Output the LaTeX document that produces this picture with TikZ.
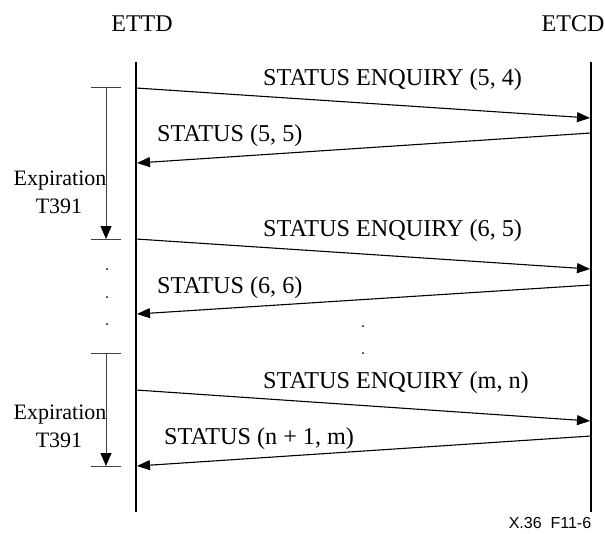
\documentclass[tikz,border=0pt]{standalone}
\usepackage{fontspec}
\setmainfont{Liberation Serif}
\newfontfamily\arialfont{Liberation Sans}
\usetikzlibrary{arrows.meta}
\tikzset{
  lifeline/.style={line width=1.8pt, black},
  msg/.style={line width=1.1pt, black, -{Triangle[length=13pt,width=10pt]}},
  timer/.style={line width=1pt, black!75, -{Triangle[length=13pt,width=11pt,color=black]}},
  timerbar/.style={line width=1pt, black!75},
  lbl/.style={inner sep=0pt, anchor=base west, font=\fontsize{24.2}{28}\selectfont},
  hdr/.style={inner sep=0pt, anchor=base, font=\fontsize{24}{28}\selectfont},
  explbl/.style={inner sep=0pt, anchor=base, font=\fontsize{22}{26}\selectfont},
  dotmark/.style={fill=black, circle, inner sep=0pt, minimum size=2pt}
}
\begin{document}
\begin{tikzpicture}[x=1pt,y=-1pt]
\useasboundingbox (0,0) rectangle (605,533);
% headers
\node[hdr] (ettd) at (142,31) {ETTD};
\node[hdr] (etcd) at (573,31) {ETCD};
% lifelines
\coordinate (Lt) at (136,62); \coordinate (Lb) at (136,512);
\coordinate (Rt) at (591,62); \coordinate (Rb) at (591,512);
\draw[lifeline] (Lt) -- (Lb);
\draw[lifeline] (Rt) -- (Rb);
% message end points
\coordinate (m1s) at (136,88);  \coordinate (m1e) at (590,118);
\coordinate (m2s) at (591,133); \coordinate (m2e) at (137,163);
\coordinate (m3s) at (136,239); \coordinate (m3e) at (590,269);
\coordinate (m4s) at (591,285); \coordinate (m4e) at (137,314);
\coordinate (m5s) at (136,390); \coordinate (m5e) at (590,421);
\coordinate (m6s) at (591,436); \coordinate (m6e) at (137,466);
\draw[msg] (m1s) -- (m1e);
\draw[msg] (m2s) -- (m2e);
\draw[msg] (m3s) -- (m3e);
\draw[msg] (m4s) -- (m4e);
\draw[msg] (m5s) -- (m5e);
\draw[msg] (m6s) -- (m6e);
% message labels
\node[lbl] (l1) at (263,85) {STATUS ENQUIRY (5, 4)};
\node[lbl] (l2) at (157,141) {STATUS (5, 5)};
\node[lbl] (l3) at (263,236) {STATUS ENQUIRY (6, 5)};
\node[lbl] (l4) at (157,293) {STATUS (6, 6)};
\node[lbl] (l5) at (263,388) {STATUS ENQUIRY (m, n)};
\node[lbl] (l6) at (164,444) {STATUS (n + 1, m)};
% timer 1
\coordinate (t1a) at (91,87);  \coordinate (t1b) at (121,87);
\coordinate (t1c) at (91,239); \coordinate (t1d) at (121,239);
\coordinate (t1top) at (106,87); \coordinate (t1bot) at (106,239);
\draw[timerbar] (t1a) -- (t1b);
\draw[timerbar] (t1c) -- (t1d);
\draw[timer] (t1top) -- (t1bot);
\node[explbl] (e1) at (60,185) {Expiration};
\node[explbl] (e1b) at (59,213) {T391};
% timer 2
\coordinate (t2a) at (91,353);  \coordinate (t2b) at (121,353);
\coordinate (t2c) at (91,466); \coordinate (t2d) at (121,466);
\coordinate (t2top) at (106,353); \coordinate (t2bot) at (106,466);
\draw[timerbar] (t2a) -- (t2b);
\draw[timerbar] (t2c) -- (t2d);
\draw[timer] (t2top) -- (t2bot);
\node[explbl] (e2) at (60,419) {Expiration};
\node[explbl] (e2b) at (59,447) {T391};
% dots
\node[dotmark] (d1) at (107,269) {};
\node[dotmark] (d2) at (107,297) {};
\node[dotmark] (d3) at (107,324) {};
\node[dotmark] (d4) at (363,326) {};
\node[dotmark] (d5) at (363,353) {};
% figure id
\node[inner sep=0pt, anchor=base, font=\arialfont\fontsize{16}{19}\selectfont] (fid) at (550,528) {X.36\ \ F11-6};
\end{tikzpicture}
\end{document}
